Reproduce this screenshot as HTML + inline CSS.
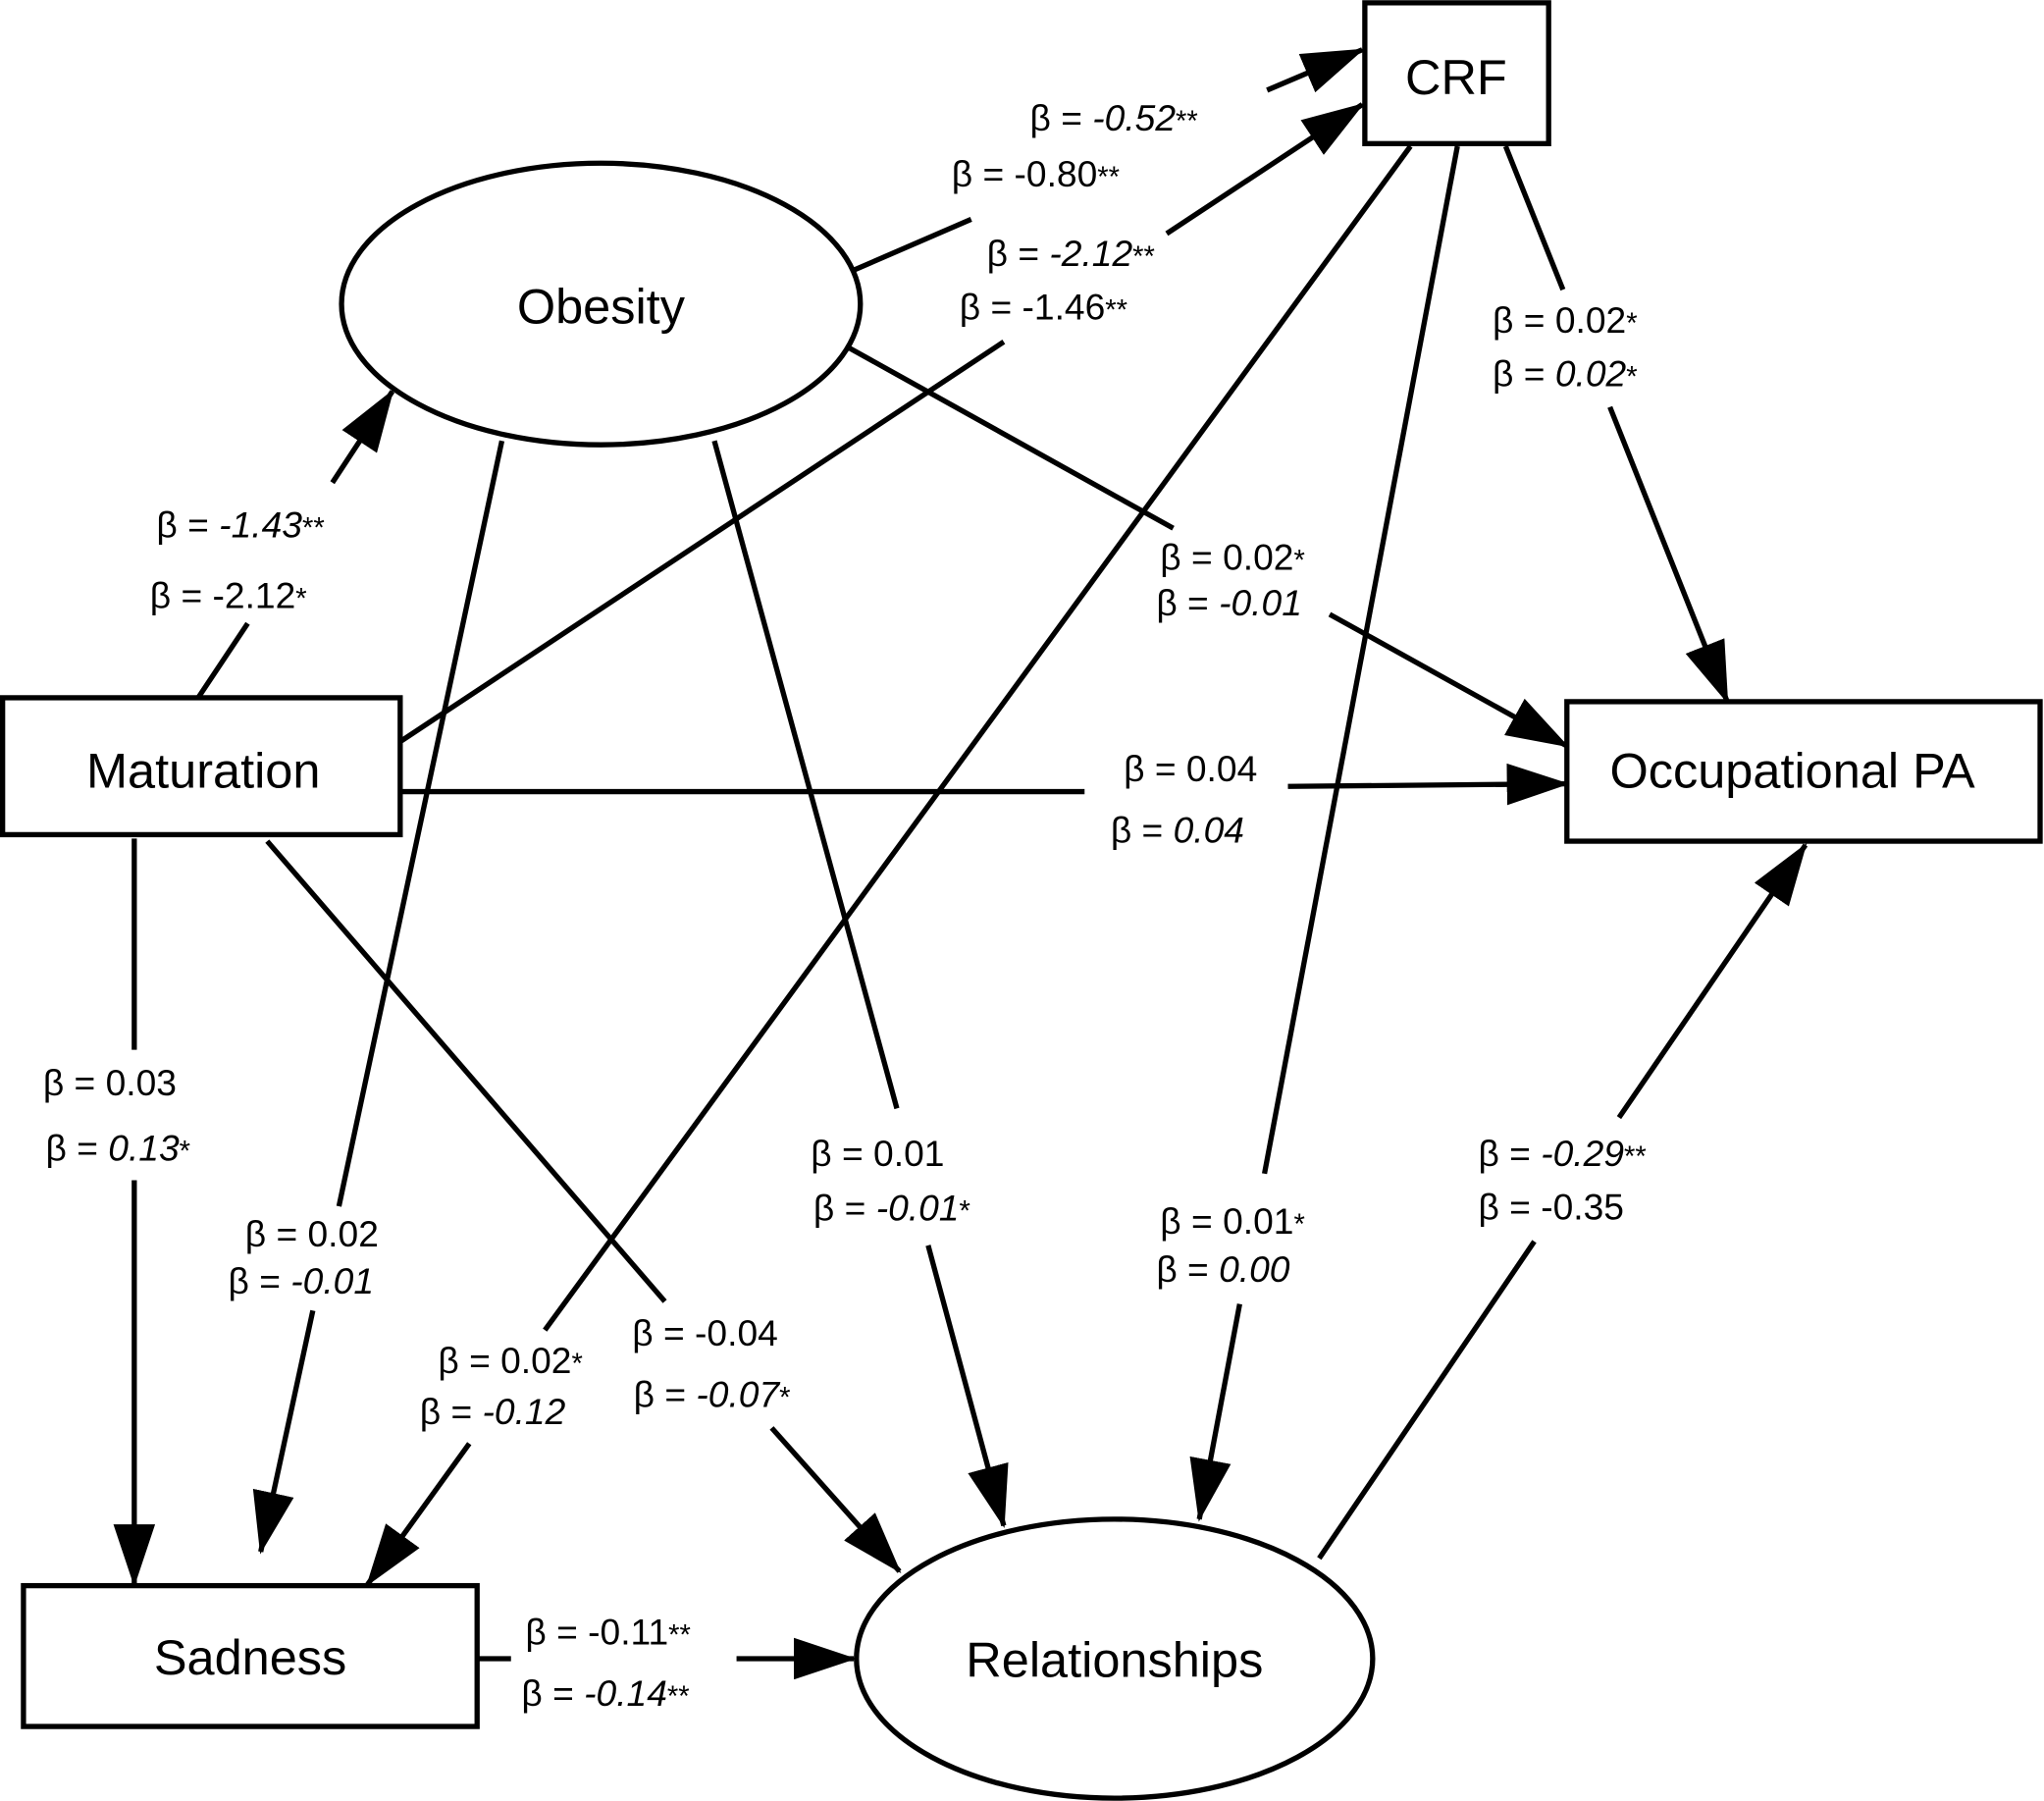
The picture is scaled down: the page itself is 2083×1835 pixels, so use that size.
<!DOCTYPE html>
<html><head><meta charset="utf-8">
<style>
html,body{margin:0;padding:0;background:#fff;}
svg{display:block;}
text{font-family:"Liberation Sans",sans-serif;fill:#000;}
.n{font-size:38px;}
.l{font-size:28px;}
.i{font-style:italic;}
.s{font-size:22px;}
</style></head><body>
<svg width="2083" height="1835" viewBox="0 0 1568 1381" xmlns="http://www.w3.org/2000/svg">
<defs>
<marker id="a" markerWidth="48" markerHeight="32" refX="46" refY="16" orient="auto" markerUnits="userSpaceOnUse">
<path d="M0,0 L48,16 L0,32 Z" fill="#000"/>
</marker>
</defs>
<g stroke="#000" stroke-width="4" fill="none">
<rect x="1047" y="2" width="141" height="108"/>
<ellipse cx="461" cy="233" rx="199" ry="108"/>
<rect x="2" y="535" width="305" height="105"/>
<rect x="1202" y="538" width="363" height="107"/>
<rect x="18" y="1216" width="348" height="108"/>
<ellipse cx="855" cy="1272" rx="198" ry="107"/>

<!-- Obesity -> CRF -->
<line x1="655" y1="207" x2="745" y2="168"/>
<line x1="972" y1="69" x2="1045" y2="38" marker-end="url(#a)"/>
<!-- Maturation -> CRF -->
<line x1="308" y1="568" x2="770" y2="262"/>
<line x1="895" y1="179" x2="1045" y2="80" marker-end="url(#a)"/>
<!-- Maturation -> Obesity -->
<line x1="152" y1="535" x2="190" y2="478"/>
<line x1="255" y1="370" x2="301" y2="300" marker-end="url(#a)"/>
<!-- CRF -> Occ PA -->
<line x1="1155" y1="112" x2="1199" y2="222"/>
<line x1="1235" y1="312" x2="1325" y2="538" marker-end="url(#a)"/>
<!-- Obesity -> Occ PA -->
<line x1="652" y1="267" x2="900" y2="405"/>
<line x1="1020" y1="471" x2="1202" y2="572" marker-end="url(#a)"/>
<!-- Maturation -> Occ PA -->
<line x1="308" y1="607" x2="832" y2="607"/>
<line x1="988" y1="603" x2="1202" y2="601" marker-end="url(#a)"/>
<!-- CRF -> Sadness -->
<line x1="1082" y1="112" x2="418" y2="1020"/>
<line x1="360" y1="1107" x2="282" y2="1215" marker-end="url(#a)"/>
<!-- CRF -> Relationships -->
<line x1="1118" y1="112" x2="970" y2="900"/>
<line x1="951" y1="1000" x2="920" y2="1165" marker-end="url(#a)"/>
<!-- Obesity -> Sadness -->
<line x1="385" y1="338" x2="260" y2="925"/>
<line x1="240" y1="1005" x2="200" y2="1190" marker-end="url(#a)"/>
<!-- Obesity -> Relationships -->
<line x1="548" y1="338" x2="688" y2="850"/>
<line x1="712" y1="955" x2="770" y2="1170" marker-end="url(#a)"/>
<!-- Maturation -> Sadness -->
<line x1="103" y1="643" x2="103" y2="805"/>
<line x1="103" y1="905" x2="103" y2="1215" marker-end="url(#a)"/>
<!-- Maturation -> Relationships -->
<line x1="205" y1="645" x2="510" y2="998"/>
<line x1="592" y1="1095" x2="690" y2="1205" marker-end="url(#a)"/>
<!-- Relationships -> Occ PA -->
<line x1="1012" y1="1195" x2="1177" y2="952"/>
<line x1="1242" y1="857" x2="1385" y2="648" marker-end="url(#a)"/>
<!-- Sadness -> Relationships -->
<line x1="366" y1="1272" x2="392" y2="1272"/>
<line x1="565" y1="1272" x2="655" y2="1272" marker-end="url(#a)"/>
</g>

<text class="n" x="1117" y="72" text-anchor="middle">CRF</text>
<text class="n" x="461" y="248" text-anchor="middle">Obesity</text>
<text class="n" x="156" y="604" text-anchor="middle">Maturation</text>
<text class="n" x="1375" y="604" text-anchor="middle">Occupational PA</text>
<text class="n" x="192" y="1284" text-anchor="middle">Sadness</text>
<text class="n" x="855" y="1286" text-anchor="middle">Relationships</text>

<text class="l" x="790" y="100">β = <tspan class="i">-0.52</tspan><tspan class="s">**</tspan></text>
<text class="l" x="730" y="143">β = -0.80<tspan class="s">**</tspan></text>
<text class="l" x="757" y="204">β = <tspan class="i">-2.12</tspan><tspan class="s">**</tspan></text>
<text class="l" x="736" y="245">β = -1.46<tspan class="s">**</tspan></text>
<text class="l" x="1145" y="255">β = 0.02<tspan class="s">*</tspan></text>
<text class="l" x="1145" y="296">β = <tspan class="i">0.02</tspan><tspan class="s">*</tspan></text>
<text class="l" x="120" y="412">β = <tspan class="i">-1.43</tspan><tspan class="s">**</tspan></text>
<text class="l" x="115" y="466">β = -2.12<tspan class="s">*</tspan></text>
<text class="l" x="890" y="437">β = 0.02<tspan class="s">*</tspan></text>
<text class="l" x="887" y="472">β = <tspan class="i">-0.01</tspan></text>
<text class="l" x="862" y="599">β = 0.04</text>
<text class="l" x="852" y="646">β = <tspan class="i">0.04</tspan></text>
<text class="l" x="33" y="840">β = 0.03</text>
<text class="l" x="35" y="890">β = <tspan class="i">0.13</tspan><tspan class="s">*</tspan></text>
<text class="l" x="622" y="894">β = 0.01</text>
<text class="l" x="624" y="936">β = <tspan class="i">-0.01</tspan><tspan class="s">*</tspan></text>
<text class="l" x="1134" y="894">β = <tspan class="i">-0.29</tspan><tspan class="s">**</tspan></text>
<text class="l" x="1134" y="935">β = -0.35</text>
<text class="l" x="890" y="946">β = 0.01<tspan class="s">*</tspan></text>
<text class="l" x="887" y="983">β = <tspan class="i">0.00</tspan></text>
<text class="l" x="188" y="956">β = 0.02</text>
<text class="l" x="175" y="992">β = <tspan class="i">-0.01</tspan></text>
<text class="l" x="485" y="1032">β = -0.04</text>
<text class="l" x="486" y="1079">β = <tspan class="i">-0.07</tspan><tspan class="s">*</tspan></text>
<text class="l" x="336" y="1053">β = 0.02<tspan class="s">*</tspan></text>
<text class="l" x="322" y="1092">β = <tspan class="i">-0.12</tspan></text>
<text class="l" x="403" y="1261">β = -0.11<tspan class="s">**</tspan></text>
<text class="l" x="400" y="1308">β = <tspan class="i">-0.14</tspan><tspan class="s">**</tspan></text>
</svg>
</body></html>
